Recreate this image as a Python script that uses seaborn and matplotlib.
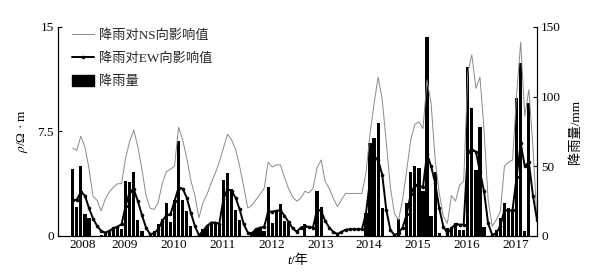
import numpy as np
import pandas as pd
import seaborn as sns
import matplotlib.pyplot as plt
from matplotlib.lines import Line2D
from matplotlib.patches import Patch

# monthly rainfall (mm), right axis
rain = [48, 21, 50, 16, 13, 0, 0, 1, 2, 3, 5, 6, 5,
        39.7, 39, 46, 11.5, 3.6, 0, 0, 3.6, 8.9, 12.4, 23.4, 10.3,
        25.8, 68, 25.8, 18, 7, 0, 0, 5, 5.7, 9.6, 10, 8.4,
        40, 45.5, 34, 18.7, 11.5, 0, 0, 3, 5, 5, 3.5, 35,
        9, 18, 23, 11, 10, 0, 0, 0, 8.6, 0, 0, 32,
        21, 0, 0, 0, 0, 0, 0, 0, 0, 0, 0, 16.5,
        67, 70, 81, 20, 0, 0, 0, 12, 0, 23.4, 46, 50.5,
        48.6, 32, 143, 14, 46, 2, 0, 5.5, 5, 9.6, 4.3, 4.3,
        121.5, 91.6, 47.4, 78.5, 6.7, 0, 0, 4, 12.7, 23.4, 20, 18,
        98.8, 124, 3.5, 95.5, 0, 0]

# rainfall influence on NS resistivity (Ohm m)
ns = [6.3, 6.15, 7.15, 6.4, 4.85, 2.85, 2.55, 1.8, 2.65, 3.15, 3.5, 3.75, 3.75,
      5.6, 6.8, 7.6, 6.4, 4.8, 2.9, 2.0, 1.9, 2.4, 3.8, 4.6, 4.8,
      5.0, 7.8, 6.9, 5.6, 4.0, 2.9, 1.3, 2.4, 3.0, 3.8, 4.5, 5.3,
      6.3, 7.3, 6.9, 6.2, 5.0, 3.5, 2.0, 2.2, 2.6, 3.0, 3.4, 5.3,
      4.95, 5.1, 5.1, 4.2, 3.4, 2.8, 2.5, 2.7, 3.2, 3.1, 3.4, 4.9,
      5.45, 3.9, 3.4, 2.7, 2.1, 2.6, 3.05, 3.05, 3.05, 3.05, 3.05, 4.5,
      7.3, 9.5, 11.4, 9.8, 6.7, 3.5, 1.6, 1.15, 2.6, 4.7, 6.9, 8.0,
      8.2, 7.7, 11.2, 9.5, 5.45, 3.1, 1.4, 0.9, 2.9, 2.5, 3.65, 3.9,
      11.7, 13.0, 10.6, 11.4, 7.6, 2.6, 0.7, 1.15, 1.75, 5.0, 5.3, 5.45,
      10.2, 13.9, 8.6, 10.5, 6.4, 1.15]

# rainfall influence on EW resistivity (Ohm m)
ew = [2.56, 2.6, 3.15, 2.9, 2.0, 1.25, 0.72, 0.36, 0.24, 0.36, 0.55, 0.67, 0.84,
      2.15, 3.2, 3.35, 2.5, 1.5, 0.6, 0.12, 0.2, 0.48, 1.08, 1.48, 1.55,
      2.5, 3.47, 3.4, 2.75, 1.67, 0.72, 0.05, 0.36, 0.72, 0.96, 0.96, 0.88,
      2.63, 3.35, 3.23, 2.75, 1.9, 0.84, 0.24, 0.19, 0.48, 0.6, 0.65, 1.75,
      1.75, 1.8, 1.85, 1.45, 1.0, 0.55, 0.3, 0.6, 0.7, 0.65, 0.6, 1.9,
      1.8, 1.08, 0.6, 0.29, 0.14, 0.29, 0.45, 0.48, 0.48, 0.48, 0.48, 1.6,
      4.0, 5.7, 5.45, 4.4, 1.87, 0.43, 0.07, 0.2, 0.6, 1.55, 3.0, 3.65,
      3.6, 3.5, 5.9, 5.0, 3.8, 2.0, 0.67, 0.2, 0.55, 0.86, 0.81, 0.81,
      6.05, 6.2, 6.05, 4.6, 3.2, 0.9, 0.07, 0.2, 0.7, 1.87, 1.8, 1.87,
      4.25, 6.65, 5.0, 5.3, 2.9, 1.15]

years = ['2008', '2009', '2010', '2011', '2012', '2013', '2014', '2015', '2016', '2017']
labels = ['降雨对NS向影响值', '降雨对EW向影响值', '降雨量']

sns.set_theme(style='white')
plt.rcParams['font.family'] = ['Liberation Serif', 'Noto Sans CJK SC']
plt.rcParams['mathtext.fontset'] = 'stix'

df = pd.DataFrame({'month': np.arange(len(rain)), 'rain': rain, 'ns': ns, 'ew': ew})

fig = plt.figure(figsize=(6, 2.75), dpi=100)
ax = fig.add_axes([0.0967, 0.142, 0.7983, 0.76])
ax2 = ax.twinx()

sns.barplot(data=df, x='month', y='rain', native_scale=True, color='black',
            width=0.8, errorbar=None, linewidth=0, saturation=1, ax=ax2)
sns.lineplot(data=df, x='month', y='ns', color='#8a8a8a', lw=0.7, ax=ax)
sns.lineplot(data=df, x='month', y='ew', color='black', lw=1.4, marker='o',
             markersize=2.6, markeredgewidth=0, ax=ax)

ax.set_zorder(ax2.get_zorder() + 1)
ax.patch.set_visible(False)

ax.set_xlim(-3.6, 114.0)
ax.set_ylim(0, 15)
ax2.set_ylim(0, 150)

ax.set_yticks([0, 7.5, 15], ['0', '7.5', '15'])
ax2.set_yticks([0, 50, 100, 150], ['0', '50', '100', '150'])
ax.set_xticks([2.5] + [12 * k + 0.8 for k in range(1, len(years))], years)

for a in (ax, ax2):
    a.spines['top'].set_visible(False)
    for s in ('left', 'right', 'bottom'):
        a.spines[s].set_color('black')
        a.spines[s].set_linewidth(0.8)
    a.tick_params(labelsize=9.5, colors='black')
ax.tick_params(axis='y', left=True, direction='in', length=3, width=0.8, pad=3)
ax2.tick_params(axis='y', right=True, direction='in', length=3, width=0.8, pad=3)
ax.tick_params(axis='x', bottom=False, length=0, pad=2)
ax2.set_xlabel('')
ax.set_xlabel('')

ax.set_ylabel('$\\rho$/Ω · m', fontsize=9.5, color='black')
ax.yaxis.set_label_coords(-0.058, 0.5)
ax2.set_ylabel('降雨量/mm', fontsize=9.5, color='black')
ax2.yaxis.set_label_coords(1.067, 0.5)

# x label "t/年" with italic t
ax.text(0.487, -0.09, 't', transform=ax.transAxes, ha='right', va='top',
        fontsize=9.5, style='italic', color='black')
ax.text(0.487, -0.09, '/年', transform=ax.transAxes, ha='left', va='top',
        fontsize=9.5, color='black')

handles = [Line2D([], [], color='#8a8a8a', lw=0.7),
           Line2D([], [], color='black', lw=1.4, marker='o', markersize=2.6, markeredgewidth=0),
           Patch(facecolor='black', edgecolor='black')]
ax.legend(handles, labels, loc='upper left', bbox_to_anchor=(0.03, 0.99),
          frameon=False, fontsize=9.5, handlelength=1.6, handleheight=0.9,
          handletextpad=0.4, labelspacing=0.75, borderaxespad=0, borderpad=0)

fig.savefig('out.png', dpi=100)
